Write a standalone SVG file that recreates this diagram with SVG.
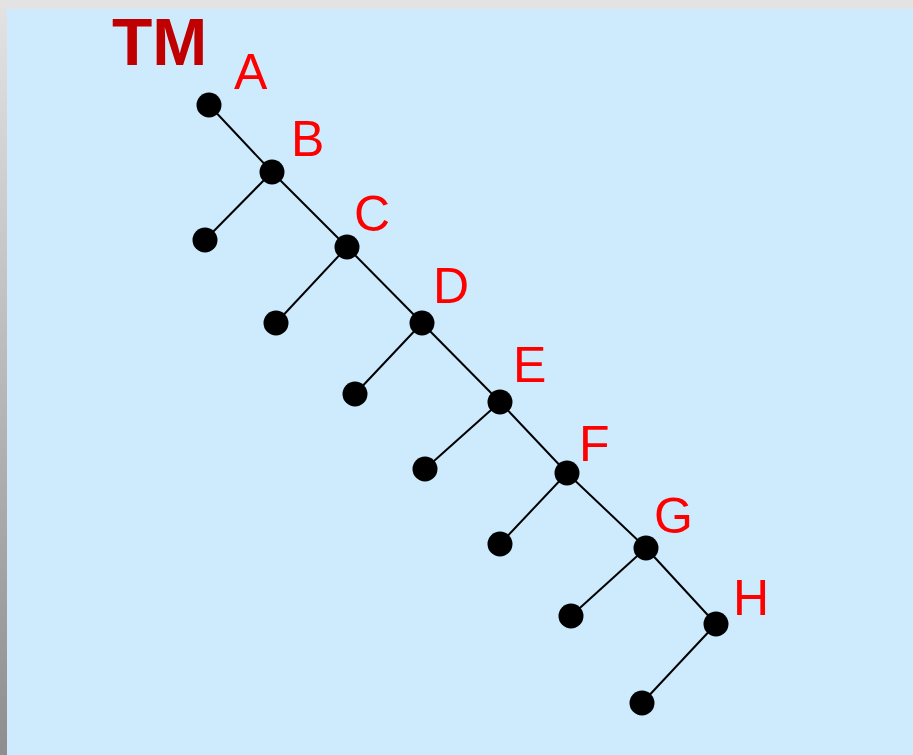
<svg xmlns="http://www.w3.org/2000/svg" width="913" height="755" viewBox="0 0 913 755">
<defs>
<linearGradient id="side" x1="0" y1="0" x2="0" y2="1">
<stop offset="0" stop-color="#e3e3e3"/>
<stop offset="1" stop-color="#8e8e8e"/>
</linearGradient>
<style>
.n{fill:#000}
.e{stroke:#000;stroke-width:2;fill:none}
.l{font-family:"Liberation Sans",Arial,sans-serif;font-size:50px;fill:#ff0000}
.t{font-family:"Liberation Sans",Arial,sans-serif;font-size:66px;font-weight:bold;fill:#c00000}
</style>
</defs>
<rect x="0" y="0" width="913" height="755" fill="#e3e3e3"/>
<rect x="0" y="0" width="7" height="755" fill="url(#side)"/>
<rect x="7" y="9" width="906" height="746" fill="#cdebfd"/>
<text class="t" x="112" y="65">TM</text>
<g id="connectors">
<line class="e" x1="209" y1="105" x2="272" y2="172"/>
<line class="e" x1="272" y1="172" x2="205" y2="240"/>
<line class="e" x1="272" y1="172" x2="347" y2="247"/>
<line class="e" x1="347" y1="247" x2="276" y2="323"/>
<line class="e" x1="347" y1="247" x2="422" y2="323"/>
<line class="e" x1="422" y1="323" x2="355" y2="394"/>
<line class="e" x1="422" y1="323" x2="500" y2="402"/>
<line class="e" x1="500" y1="402" x2="425" y2="469"/>
<line class="e" x1="500" y1="402" x2="567" y2="473"/>
<line class="e" x1="567" y1="473" x2="500" y2="544"/>
<line class="e" x1="567" y1="473" x2="646" y2="548"/>
<line class="e" x1="646" y1="548" x2="571" y2="616"/>
<line class="e" x1="646" y1="548" x2="716" y2="624"/>
<line class="e" x1="716" y1="624" x2="642" y2="703"/>
</g>
<g id="A"><circle class="n" cx="209" cy="105" r="12.5"/><text class="l" x="234" y="89">A</text></g>
<g id="B"><circle class="n" cx="272" cy="172" r="12.5"/><text class="l" x="291" y="156">B</text></g>
<g id="B-leaf"><circle class="n" cx="205" cy="240" r="12.5"/></g>
<g id="C"><circle class="n" cx="347" cy="247" r="12.5"/><text class="l" x="354" y="231">C</text></g>
<g id="C-leaf"><circle class="n" cx="276" cy="323" r="12.5"/></g>
<g id="D"><circle class="n" cx="422" cy="323" r="12.5"/><text class="l" x="433" y="303">D</text></g>
<g id="D-leaf"><circle class="n" cx="355" cy="394" r="12.5"/></g>
<g id="E"><circle class="n" cx="500" cy="402" r="12.5"/><text class="l" x="513" y="382">E</text></g>
<g id="E-leaf"><circle class="n" cx="425" cy="469" r="12.5"/></g>
<g id="F"><circle class="n" cx="567" cy="473" r="12.5"/><text class="l" x="579" y="461">F</text></g>
<g id="F-leaf"><circle class="n" cx="500" cy="544" r="12.5"/></g>
<g id="G"><circle class="n" cx="646" cy="548" r="12.5"/><text class="l" x="654" y="533">G</text></g>
<g id="G-leaf"><circle class="n" cx="571" cy="616" r="12.5"/></g>
<g id="H"><circle class="n" cx="716" cy="624" r="12.5"/><text class="l" x="733" y="615">H</text></g>
<g id="H-leaf"><circle class="n" cx="642" cy="703" r="12.5"/></g>
</svg>
